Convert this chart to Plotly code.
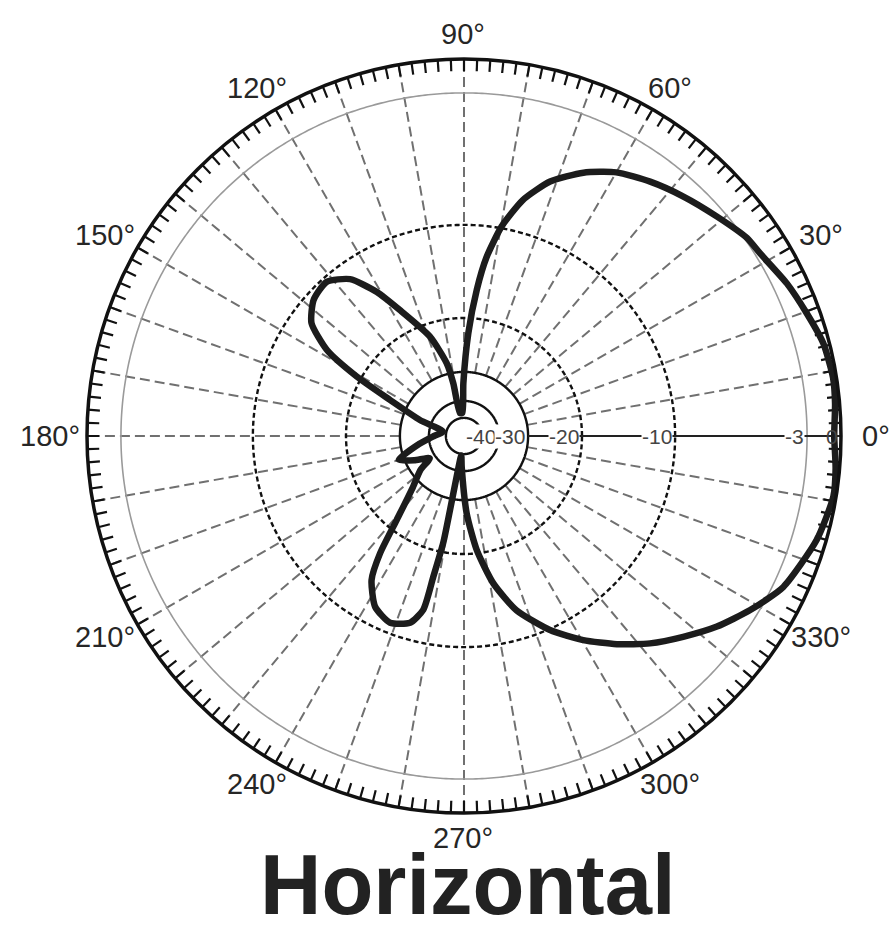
import numpy as np
import plotly.graph_objects as go

# ---------------- data ----------------
# Radial scale of the chart (dB -> fraction of outer radius), read from the grid rings
SCALE_DB = [-60, -50, -40, -30, -20, -10, -3, 0]
SCALE_R = [0.0, 0.048, 0.093, 0.170, 0.313, 0.560, 0.910, 1.0]

RING_LABEL_DB = [-40, -30, -20, -10, -3, 0]
RING_LABEL_TEXT = ["-40", "-30", "-20", "-10", "-3", "0"]
SOLID_RINGS_DB = [-50, -40, -30]
DASHED_RINGS_DB = [-20, -10]
GRAY_RING_DB = [-3]

ANGLE_TICKS = list(range(0, 360, 2))
ANGLE_LABEL_DEG = list(range(0, 360, 30))
ANGLE_LABEL_TEXT = [f"{a}°" for a in ANGLE_LABEL_DEG]
SPOKE_ANGLES = list(range(10, 360, 10))

# Horizontal radiation pattern (azimuth in degrees, relative gain in dB)
AZIMUTH = [0, 5, 9, 14.5, 19.7, 25.3, 31.7, 35, 41, 47.5, 53.8, 60, 65.6, 71.3, 76,
           79.8, 82.8, 85, 87.6, 90.7, 94,
           100, 101.5, 103.4, 108.9, 117, 121.2, 126, 131.7, 137.9, 143.5, 147.9,
           151, 154, 160, 168,
           180, 190, 200, 206, 213, 218, 225, 231.3, 234.4, 237.3, 242.5, 248.4,
           253.9, 256.8, 257.7, 259, 259.3, 259.6, 262,
           265.7, 272, 276.4, 281.3, 286.8, 293.9, 300.3, 306.3, 311.9, 317.5, 323,
           328.7, 334.7, 343.6, 350.7, 355, 360]
GAIN_DB = [-0.6, -0.4, -0.3, -0.53, -1.15, -1.76, -2.58, -2.8, -3.44, -3.97, -4.48,
           -5.05, -5.86, -6.95, -8.3, -9.9, -13.3, -16.9, -22.8, -33.9, -47,
           -47, -33.5, -28.0, -22.4, -17.5, -14.6, -11.85, -10.5, -10.9, -12.3, -15.3,
           -19.5, -26.6, -35.9, -48,
           -43, -36.5, -29, -33, -38, -33, -28.5, -21.9, -17.2, -14.3, -12.0, -11.1,
           -11.8, -13.5, -17.2, -21.7, -28.0, -35.5, -49,
           -42.5, -27.5, -20.6, -16.5, -13.1, -9.94, -8.66, -7.5, -6.42, -5.43, -4.4,
           -3.43, -2.1, -0.82, -0.24, -0.35, -0.6]

TITLE = "Horizontal"


def to_r(db):
    return np.interp(db, SCALE_DB, SCALE_R)


# ---------------- layout geometry ----------------
W, H = 893, 929
CX, CY, RAD = 464, 436, 377
x0, x1 = (CX - RAD) / W, (CX + RAD) / W
y0, y1 = 1 - (CY + RAD) / H, 1 - (CY - RAD) / H
FONT = "Liberation Sans, Arial, Helvetica, sans-serif"
TICK_FRAC = 12 / RAD
# angle labels sit on a slightly flattened ring outside the chart
LABEL_AX, LABEL_AY, LABEL_DX = 413 / RAD, 402 / RAD, -1 / RAD

fig = go.Figure()

# radial dashed spokes
th, rr = [], []
for a in SPOKE_ANGLES:
    th += [a, a, None]
    rr += [float(to_r(-30)), 1.0, None]
fig.add_trace(go.Scatterpolar(theta=th, r=rr, mode="lines",
                              line=dict(color="#707070", width=2, dash="10px,5px"),
                              hoverinfo="skip", showlegend=False))

circle_theta = np.linspace(0, 360, 721)
for db in GRAY_RING_DB:
    fig.add_trace(go.Scatterpolar(theta=circle_theta, r=np.full(circle_theta.shape, to_r(db)),
                                  mode="lines", line=dict(color="#9a9a9a", width=1.6),
                                  hoverinfo="skip", showlegend=False))
for db in DASHED_RINGS_DB:
    fig.add_trace(go.Scatterpolar(theta=circle_theta, r=np.full(circle_theta.shape, to_r(db)),
                                  mode="lines", line=dict(color="#111111", width=2.4, dash="5px,3px"),
                                  hoverinfo="skip", showlegend=False))
for db in SOLID_RINGS_DB:
    fig.add_trace(go.Scatterpolar(theta=circle_theta, r=np.full(circle_theta.shape, to_r(db)),
                                  mode="lines", line=dict(color="#111111", width=2.4),
                                  hoverinfo="skip", showlegend=False))

# inward ticks on the outer ring, every 2 degrees
th, rr = [], []
for a in ANGLE_TICKS:
    th += [a, a, None]
    rr += [1.0 - TICK_FRAC, 1.0, None]
fig.add_trace(go.Scatterpolar(theta=th, r=rr, mode="lines",
                              line=dict(color="#111111", width=2.2),
                              hoverinfo="skip", showlegend=False))

# 0 degree solid axis line
fig.add_trace(go.Scatterpolar(theta=[0, 0], r=[float(to_r(-30)), 1.0], mode="lines",
                              line=dict(color="#222222", width=2.2),
                              hoverinfo="skip", showlegend=False))

# pattern
fig.add_trace(go.Scatterpolar(theta=AZIMUTH, r=to_r(np.array(GAIN_DB)), mode="lines",
                              line=dict(color="#1c1c1c", width=6.5, shape="spline", smoothing=0.6),
                              name="Horizontal", showlegend=False))

# hidden full-page cartesian frame, scaled like the polar area, used to place labels
fig.add_trace(go.Scatter(x=[None], y=[None], xaxis="x", yaxis="y",
                         showlegend=False, hoverinfo="skip"))

annotations = []
for db, txt in zip(RING_LABEL_DB, RING_LABEL_TEXT):
    annotations.append(dict(x=float(to_r(db)), y=0, xref="x", yref="y", text=txt,
                            showarrow=False, xanchor="right", yanchor="middle", xshift=-2,
                            bgcolor="white" if db != 0 else "rgba(0,0,0,0)", borderpad=0,
                            font=dict(family=FONT, size=21, color="#444444")))
for a, txt in zip(ANGLE_LABEL_DEG, ANGLE_LABEL_TEXT):
    annotations.append(dict(x=float(LABEL_DX + LABEL_AX * np.cos(np.radians(a))),
                            y=float(LABEL_AY * np.sin(np.radians(a))),
                            xref="x", yref="y", text=txt, showarrow=False,
                            xanchor="center", yanchor="middle", borderpad=0,
                            font=dict(family=FONT, size=29, color="#262626")))
annotations.append(dict(x=(CX + 4) / W, y=0, xref="paper", yref="paper",
                        text=f"<b>{TITLE}</b>", showarrow=False,
                        xanchor="center", yanchor="bottom", yshift=-5,
                        font=dict(family=FONT, size=85, color="#222222")))

fig.update_layout(
    width=W, height=H,
    margin=dict(l=0, r=0, t=0, b=0),
    paper_bgcolor="white", plot_bgcolor="rgba(0,0,0,0)",
    showlegend=False,
    polar=dict(
        domain=dict(x=[x0, x1], y=[y0, y1]),
        bgcolor="white",
        radialaxis=dict(visible=False, range=[0, 1]),
        angularaxis=dict(rotation=0, direction="counterclockwise",
                         tickmode="array", tickvals=ANGLE_TICKS,
                         ticks="", showticklabels=False,
                         showline=True, linecolor="#111111", linewidth=3.5,
                         showgrid=False),
    ),
    xaxis=dict(domain=[0, 1], range=[-CX / RAD, (W - CX) / RAD],
               visible=False, fixedrange=True),
    yaxis=dict(domain=[0, 1], range=[-(H - CY) / RAD, CY / RAD],
               visible=False, fixedrange=True),
    annotations=annotations,
)

fig.write_html("out.html", config={"displayModeBar": False},
               post_script="document.body.style.margin='0';")
